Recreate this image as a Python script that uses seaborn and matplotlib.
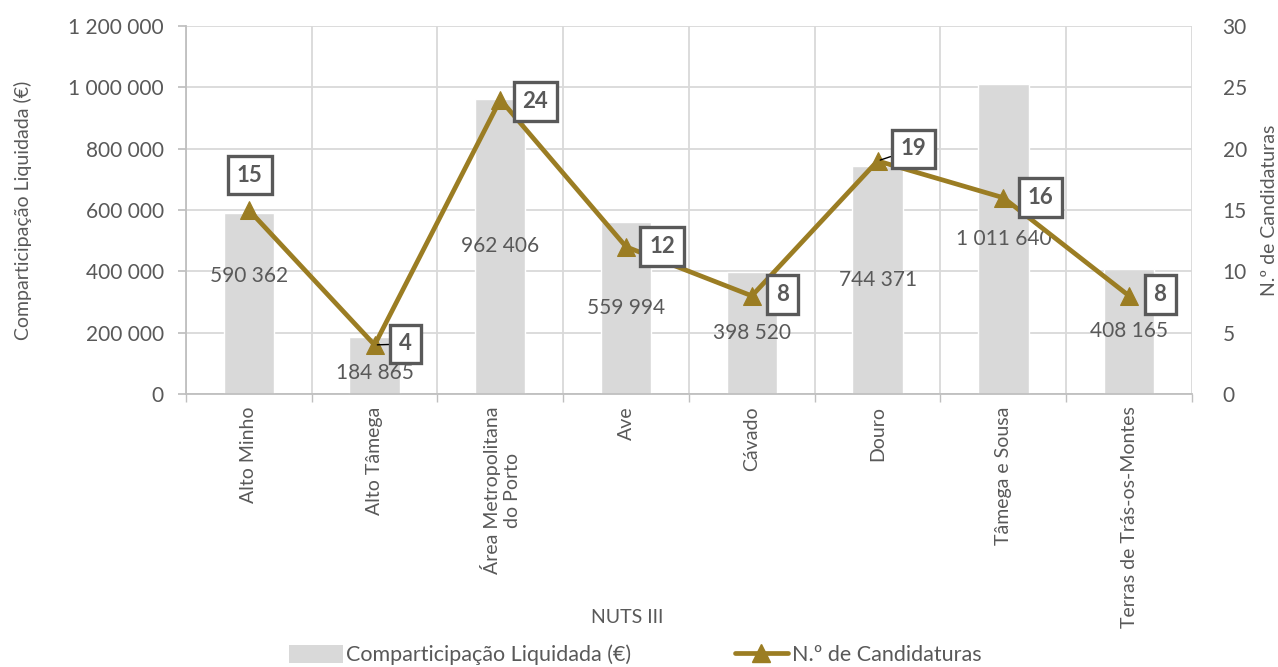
import numpy as np
import pandas as pd
import matplotlib
matplotlib.use("Agg")
import matplotlib.pyplot as plt
import seaborn as sns
from matplotlib.ticker import FuncFormatter, MultipleLocator
from matplotlib.patches import Patch
from matplotlib.lines import Line2D

# dados
regioes = ["Alto Minho", "Alto Tâmega", "Área Metropolitana\ndo Porto", "Ave",
           "Cávado", "Douro", "Tâmega e Sousa", "Terras de Trás-os-Montes"]
comparticipacao = [590362, 184865, 962406, 559994, 398520, 744371, 1011640, 408165]
candidaturas = [15, 4, 24, 12, 8, 19, 16, 8]

df = pd.DataFrame({"regiao": regioes, "valor": comparticipacao, "n": candidaturas})

sns.set_theme(style="white")
plt.rcParams["font.family"] = ["Lato", "DejaVu Sans"]

cinza_txt = "#595959"
cinza_barra = "#d9d9d9"
cor_linha = "#9b7d23"
cinza_eixo = "#bfbfbf"

fig = plt.figure(figsize=(12.78, 6.67), dpi=100)
ax = fig.add_axes([0.1455, 0.4093, 0.7872, 0.5517])

sns.barplot(data=df, x="regiao", y="valor", color=cinza_barra, width=0.4,
            saturation=1, ax=ax, zorder=2)
ax.set_xlim(-0.5, 7.5)
ax.set_ylim(0, 1200000)
ax.yaxis.set_major_locator(MultipleLocator(200000))
ax.yaxis.set_major_formatter(FuncFormatter(lambda v, p: f"{int(v):,}".replace(",", " ")))
ax.set_xticks(np.arange(-0.5, 8, 1), minor=True)
ax.grid(axis="y", color=cinza_barra, lw=1.3, zorder=0)
ax.grid(axis="x", which="minor", color=cinza_barra, lw=1.3, zorder=0)
ax.set_axisbelow(True)
for s in ["top", "right"]:
    ax.spines[s].set_visible(False)
for s in ["left", "bottom"]:
    ax.spines[s].set_color(cinza_eixo)
    ax.spines[s].set_linewidth(1.3)
ax.tick_params(axis="y", left=True, length=6, color=cinza_eixo, labelsize=15,
               labelcolor=cinza_txt, pad=10)
ax.tick_params(axis="x", which="major", length=0, labelsize=14, labelcolor=cinza_txt,
               rotation=90, pad=9)
ax.tick_params(axis="x", which="minor", bottom=True, length=6, color=cinza_eixo)
ax.set_xlabel("NUTS III", fontsize=14, color=cinza_txt)
ax.xaxis.set_label_coords(0.439, -0.584)
ax.set_ylabel("Comparticipação Liquidada (€)", fontsize=14, color=cinza_txt, labelpad=26)

# rótulos das barras (centro), com ajustes manuais como no original
desloc_barra = {0: 27, 1: -7}
for i, v in enumerate(comparticipacao):
    dy = desloc_barra.get(i, 0)
    ax.annotate(f"{v:,}".replace(",", " "), (i, v / 2), xytext=(0, dy),
                textcoords="offset pixels", ha="center", va="center",
                fontsize=15, color=cinza_txt, zorder=3)

# eixo secundário
ax2 = ax.twinx()
sns.lineplot(x=np.arange(len(candidaturas)), y=candidaturas, ax=ax2, color=cor_linha,
             lw=3.4, marker="^", markersize=13, markeredgecolor=cor_linha, zorder=4)
ax2.set_ylim(0, 30)
ax2.set_xlim(-0.5, 7.5)
ax2.yaxis.set_major_locator(MultipleLocator(5))
for s in ax2.spines.values():
    s.set_visible(False)
ax2.tick_params(axis="y", right=True, length=0, labelsize=15, labelcolor=cinza_txt, pad=22)
ax2.set_ylabel("N.º de Candidaturas", fontsize=14, color=cinza_txt, labelpad=10)

desloc_caixa = [(1, 35), (31, 1), (35, -2), (36, 0), (31, 1), (36, 12), (37, 0), (31, 1)]
for i, (n, (dx, dy)) in enumerate(zip(candidaturas, desloc_caixa)):
    seta = None
    if i in (1, 5):
        seta = dict(arrowstyle="-", color="black", lw=1, shrinkA=14, shrinkB=2)
    ax2.annotate(str(n), (i, n), xytext=(dx, dy), textcoords="offset pixels",
                 ha="center", va="center", fontsize=16, fontweight="bold",
                 color=cinza_txt, zorder=5, arrowprops=seta,
                 bbox=dict(boxstyle="square,pad=0.4", fc="white", ec=cinza_txt, lw=2.4))

handles = [Patch(facecolor=cinza_barra, edgecolor="none"),
           Line2D([0], [0], color=cor_linha, lw=3.4, marker="^", markersize=13)]
fig.legend(handles, ["Comparticipação Liquidada (€)", "N.º de Candidaturas"],
           loc="center", bbox_to_anchor=(0.497, 0.018), ncol=2, frameon=False,
           fontsize=15.5, labelcolor=cinza_txt, handlelength=2.5, handleheight=0.9,
           handletextpad=0.15, columnspacing=4.8)

fig.savefig("out.png", dpi=100)
